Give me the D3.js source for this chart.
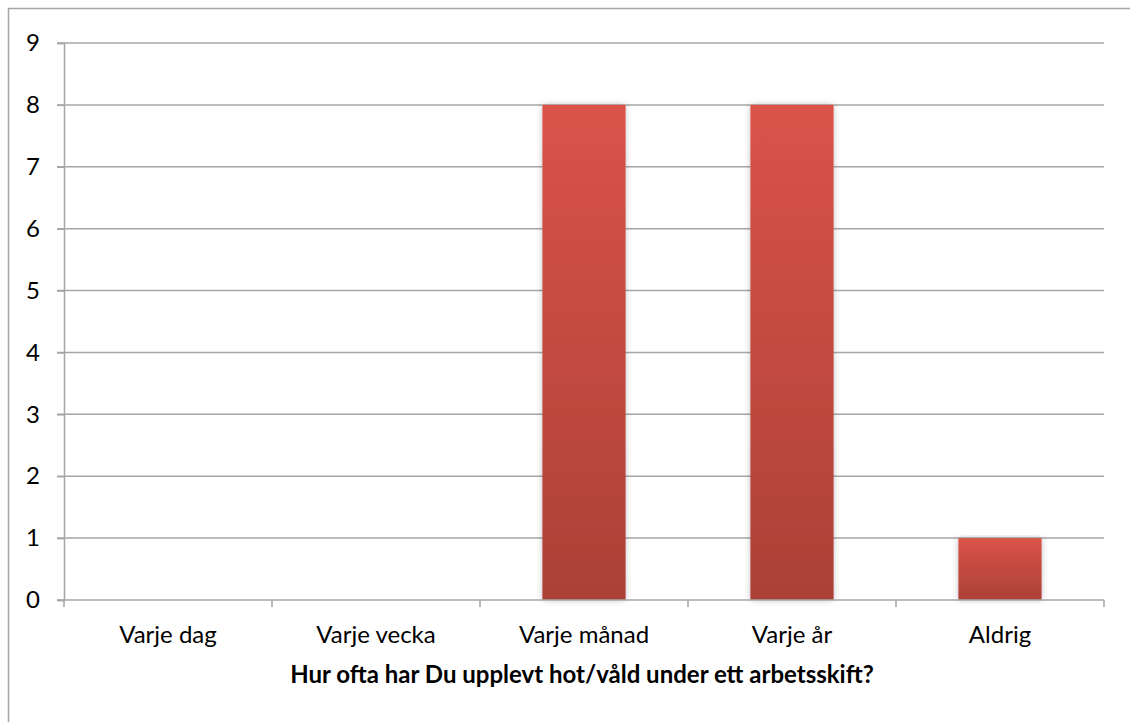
<!DOCTYPE html>
<html>
<head>
<meta charset="utf-8">
<script src="https://cdn.jsdelivr.net/npm/d3@7"></script>
<style>
  body { margin: 0; background: #fff; }
  text { font-family: Lato, "Open Sans", sans-serif; fill: #000; }
</style>
</head>
<body>
<svg id="chart" width="1130" height="722"></svg>
<script>
const categories = ['Varje dag', 'Varje vecka', 'Varje månad', 'Varje år', 'Aldrig'];
const counts = [0, 0, 8, 8, 1];
const yTicks = [0, 1, 2, 3, 4, 5, 6, 7, 8, 9];
const xTitle = 'Hur ofta har Du upplevt hot/våld under ett arbetsskift?';

const svg = d3.select('#chart');
const plot = {left: 64, right: 1104, top: 43, bottom: 600};

// outer frame, cut by the right and bottom edges like the original
svg.append('path')
    .attr('d', 'M8.5 722 V8.5 H1130')
    .attr('fill', 'none')
    .attr('stroke', '#a6a6a6')
    .attr('stroke-width', 1.5);

const x = d3.scaleBand().domain(categories).range([plot.left, plot.right]).paddingInner(0.6).paddingOuter(0.3);
const band = d3.scaleBand().domain(categories).range([plot.left, plot.right]);
const y = d3.scaleLinear().domain([0, 9]).range([plot.bottom, plot.top]);

const defs = svg.append('defs');
const grad = defs.append('linearGradient')
    .attr('id', 'barGrad')
    .attr('x1', 0).attr('y1', 0).attr('x2', 0).attr('y2', 1);
grad.append('stop').attr('offset', '0%').attr('stop-color', '#da5349');
grad.append('stop').attr('offset', '100%').attr('stop-color', '#ab4137');

const shadow = defs.append('filter').attr('id', 'shadow')
    .attr('x', '-20%').attr('y', '-5%').attr('width', '140%').attr('height', '110%');
shadow.append('feDropShadow')
    .attr('dx', 0).attr('dy', 0).attr('stdDeviation', 3)
    .attr('flood-color', '#000').attr('flood-opacity', 0.25);

// gridlines
svg.append('g')
    .selectAll('line')
    .data(yTicks.filter(d => d > 0))
    .join('line')
    .attr('x1', plot.left - 7)
    .attr('x2', plot.right)
    .attr('y1', d => y(d))
    .attr('y2', d => y(d))
    .attr('stroke', '#a6a6a6')
    .attr('stroke-width', 1.5);

// y axis
const yAxis = svg.append('g')
    .attr('transform', `translate(${plot.left},0)`)
    .call(d3.axisLeft(y).tickValues(yTicks).tickSize(7).tickPadding(17).tickFormat(d3.format('d')));
yAxis.select('.domain').attr('stroke', '#a6a6a6').attr('stroke-width', 1.5);
yAxis.selectAll('.tick line').attr('stroke', '#a6a6a6').attr('stroke-width', 1.5);
yAxis.selectAll('.tick text').style('font-size', '24px').attr('fill', '#000');

// bars
svg.append('g')
    .selectAll('rect')
    .data(categories.map((c, i) => ({cat: c, val: counts[i]})).filter(d => d.val > 0))
    .join('rect')
    .attr('x', d => x(d.cat))
    .attr('width', x.bandwidth())
    .attr('y', d => y(d.val))
    .attr('height', d => y(0) - y(d.val))
    .attr('fill', 'url(#barGrad)')
    .attr('filter', 'url(#shadow)');

// x axis
const xAxisG = svg.append('g').attr('transform', `translate(0,${plot.bottom})`);
xAxisG.append('line')
    .attr('x1', plot.left - 7).attr('x2', plot.right)
    .attr('stroke', '#a6a6a6').attr('stroke-width', 1.5);
const boundaries = categories.map(c => band(c)).concat([plot.right]);
xAxisG.selectAll('line.tk')
    .data(boundaries)
    .join('line')
    .attr('class', 'tk')
    .attr('x1', d => d).attr('x2', d => d)
    .attr('y1', 0).attr('y2', 7)
    .attr('stroke', '#a6a6a6').attr('stroke-width', 1.5);
xAxisG.selectAll('text')
    .data(categories)
    .join('text')
    .attr('x', d => band(d) + band.bandwidth() / 2)
    .attr('y', 43)
    .attr('text-anchor', 'middle')
    .style('font-size', '24px')
    .text(d => d);

svg.append('text')
    .attr('x', 582)
    .attr('y', 683)
    .attr('text-anchor', 'middle')
    .style('font-size', '24px')
    .style('font-weight', 'bold')
    .text(xTitle);
</script>
</body>
</html>
